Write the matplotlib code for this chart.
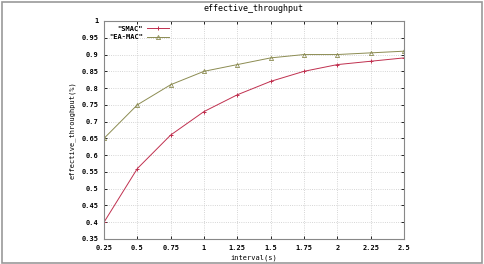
import matplotlib
matplotlib.use("Agg")
import matplotlib.pyplot as plt
from matplotlib.patches import Rectangle

# data
interval = [0.25, 0.5, 0.75, 1.0, 1.25, 1.5, 1.75, 2.0, 2.25, 2.5]
smac = [0.40, 0.56, 0.66, 0.73, 0.78, 0.82, 0.85, 0.87, 0.88, 0.89]
ea_mac = [0.65, 0.75, 0.81, 0.85, 0.87, 0.89, 0.90, 0.90, 0.905, 0.91]
xticks = [0.25, 0.5, 0.75, 1, 1.25, 1.5, 1.75, 2, 2.25, 2.5]
xticklabels = ["0.25", "0.5", "0.75", "1", "1.25", "1.5", "1.75", "2", "2.25", "2.5"]
yticks = [0.35, 0.4, 0.45, 0.5, 0.55, 0.6, 0.65, 0.7, 0.75, 0.8, 0.85, 0.9, 0.95, 1]
yticklabels = ["0.35", "0.4", "0.45", "0.5", "0.55", "0.6", "0.65", "0.7", "0.75",
               "0.8", "0.85", "0.9", "0.95", "1"]

plt.rcParams['font.family'] = 'DejaVu Sans Mono'
plt.rcParams['font.weight'] = 'bold'
plt.rcParams['font.size'] = 5

fig = plt.figure(figsize=(4.85, 2.64), dpi=100)
# gray outer frame
fig.patches.append(Rectangle((0.004, 0.004), 0.99, 0.99, transform=fig.transFigure,
                             fill=False, edgecolor='#999999', linewidth=1.2))
ax = fig.add_axes([104 / 485, 1 - 239 / 264, 300 / 485, 218 / 264])

ax.plot(interval, smac, color='#c0304f', linewidth=0.7, marker='+', markersize=3.5,
        markeredgewidth=0.7, label='"SMAC"')
ax.plot(interval, ea_mac, color='#8c8c52', linewidth=0.7, marker='^', markersize=3,
        markerfacecolor='none', markeredgewidth=0.6, label='"EA-MAC"')

ax.set_xlim(0.25, 2.5)
ax.set_ylim(0.35, 1.0)
ax.set_xticks(xticks)
ax.set_xticklabels(xticklabels)
ax.set_yticks(yticks)
ax.set_yticklabels(yticklabels)
ax.tick_params(direction='in', length=2, width=0.6, pad=4, top=True, right=True)
ax.grid(True, linestyle=':', color='#c8c8c8', linewidth=0.6)
for s in ax.spines.values():
    s.set_color('#888888')
    s.set_linewidth(0.8)

ax.set_xlabel('interval(s)', labelpad=3)
ax.set_ylabel('effective_throughput(%)', labelpad=4)
ax.set_title('effective_throughput', pad=7)

leg = ax.legend(loc='upper left', frameon=False, markerfirst=False, handlelength=3.2,
                borderaxespad=0.3, labelspacing=0.3, handletextpad=0.6)

fig.savefig('out.png', dpi=100)
